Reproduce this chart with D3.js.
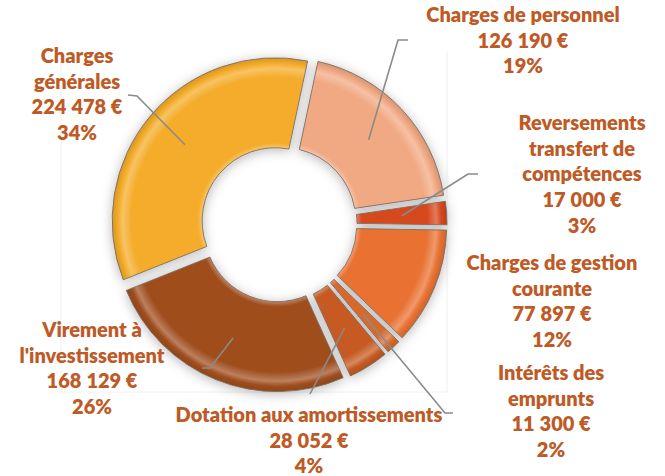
<!DOCTYPE html>
<html>
<head>
<meta charset="utf-8">
<script src="https://cdn.jsdelivr.net/npm/d3@7"></script>
<style>
  html, body { margin: 0; padding: 0; background: #fff; }
  svg { display: block; }
</style>
</head>
<body>
<div id="chart"></div>
<script>
// data, in the order of the budget lines
const categories = [
  ['Charges', 'générales'],
  ['Charges de personnel'],
  ['Reversements', 'transfert de', 'compétences'],
  ['Charges de gestion', 'courante'],
  ['Intérêts des', 'emprunts'],
  ['Dotation aux amortissements'],
  ['Virement à', "l'investissement"]
];
const amounts = [224478, 126190, 17000, 77897, 11300, 28052, 168129];
const colors = ['#F4AC29', '#F1A983', '#D6481B', '#E97132', '#D8692C', '#C65A22', '#A04E1F'];

// label layout (centre x, first baseline, leader line start/elbow)
const labelLayout = [
  { x: 77,  y: 63,  lead: [[128, 95], [137, 96]] },
  { x: 523, y: 22,  lead: [[408, 40], [398, 40]] },
  { x: 582, y: 130, lead: [[478, 174], [468, 174]] },
  { x: 552, y: 270, lead: null },
  { x: 551, y: 380, lead: [[453, 413], [445, 413]] },
  { x: 309, y: 422, lead: [[310, 394]] },
  { x: 92,  y: 337, lead: [[202, 368], [210, 368]] }
];

const width = 665, height = 476;
const cx = 279, cy = 224, rIn = 73, rOut = 163, explode = 5;
const lineH = 25.7;
const textColor = '#BE5A26';

const total = d3.sum(amounts);
const rad = Math.PI / 180;
// second slice (personnel) starts 12 degrees right of the top
const start = 12 * rad - 2 * Math.PI * amounts[0] / total;

const loc = d3.formatLocale({ decimal: ',', thousands: '\u202f', grouping: [3], currency: ['', '\u00a0€'] });
const fmtEur = loc.format('$,.0f');
const fmtPct = d3.format('.0%');

const svg = d3.select('#chart').append('svg')
  .attr('width', width).attr('height', height)
  .attr('viewBox', [0, 0, width, height]);

const defs = svg.append('defs');
const f = defs.append('filter').attr('id', 'shadow')
  .attr('x', '-20%').attr('y', '-20%').attr('width', '140%').attr('height', '140%');
f.append('feGaussianBlur').attr('in', 'SourceAlpha').attr('stdDeviation', 6).attr('result', 'b');
f.append('feOffset').attr('in', 'b').attr('dx', 0).attr('dy', 2).attr('result', 'o');
f.append('feFlood').attr('flood-color', '#000').attr('flood-opacity', 0.28);
f.append('feComposite').attr('in2', 'o').attr('operator', 'in').attr('result', 's');
const fm = f.append('feMerge');
fm.append('feMergeNode').attr('in', 's');
fm.append('feMergeNode').attr('in', 'SourceGraphic');

// bevel-like radial gradient per slice
colors.forEach((c, i) => {
  const g = defs.append('radialGradient').attr('id', 'grad' + i)
    .attr('gradientUnits', 'userSpaceOnUse')
    .attr('cx', 0).attr('cy', 0).attr('r', rOut);
  const lite = d3.interpolateRgb(c, '#fff');
  const dark = d3.interpolateRgb(c, '#000');
  [[rIn / rOut, lite(0.3)], [(rIn + 5) / rOut, c], [0.88, c], [0.935, lite(0.28)],
   [0.965, c], [1, dark(0.12)]]
    .forEach(([o, col]) => g.append('stop').attr('offset', o).attr('stop-color', col));
});

// faint plot frame
svg.append('path')
  .attr('d', `M${cx - rOut - 55},${cy - rOut - 10}V${cy + rOut + 5}H${cx + rOut + 5}V${cy - rOut - 10}`)
  .attr('fill', 'none').attr('stroke', '#f0f0f0');

const pie = d3.pie().sort(null).value(d => d)
  .startAngle(start).endAngle(start + 2 * Math.PI);
const arcs = pie(amounts);
const arc = d3.arc().innerRadius(rIn).outerRadius(rOut).padAngle(0.03).padRadius(100);

const shift = d => {
  const a = (d.startAngle + d.endAngle) / 2;
  return [explode * Math.sin(a), -explode * Math.cos(a)];
};

const gSlices = svg.append('g').attr('filter', 'url(#shadow)');
gSlices.selectAll('g').data(arcs).join('g')
  .attr('transform', d => { const [dx, dy] = shift(d); return `translate(${cx + dx},${cy + dy})`; })
  .append('path')
  .attr('d', arc)
  .attr('fill', (d, i) => `url(#grad${i})`)
  .attr('stroke', '#7d6d62').attr('stroke-width', 0.9);

// leader lines
const line = d3.line();
svg.append('g').selectAll('path').data(arcs.filter((d, i) => labelLayout[i].lead)).join('path')
  .attr('d', d => {
    const [dx, dy] = shift(d);
    const c = d3.arc().innerRadius(rIn).outerRadius(rOut).centroid(d);
    return line([...labelLayout[d.index].lead, [cx + dx + c[0], cy + dy + c[1]]]);
  })
  .attr('fill', 'none').attr('stroke', '#8a8a8a').attr('stroke-width', 1.6);

// labels
const labels = svg.append('g')
  .attr('font-family', 'Lato, "Open Sans", sans-serif')
  .attr('font-weight', 800).attr('font-size', 20)
  .attr('fill', textColor).attr('text-anchor', 'middle');
arcs.forEach((d, i) => {
  const L = labelLayout[i];
  const lines = [...categories[i], fmtEur(amounts[i]), fmtPct(amounts[i] / total)];
  const t = labels.append('text').attr('x', L.x).attr('y', L.y);
  lines.forEach((s, k) => t.append('tspan').attr('x', L.x).attr('y', L.y + k * lineH).text(s));
});
</script>
</body>
</html>
